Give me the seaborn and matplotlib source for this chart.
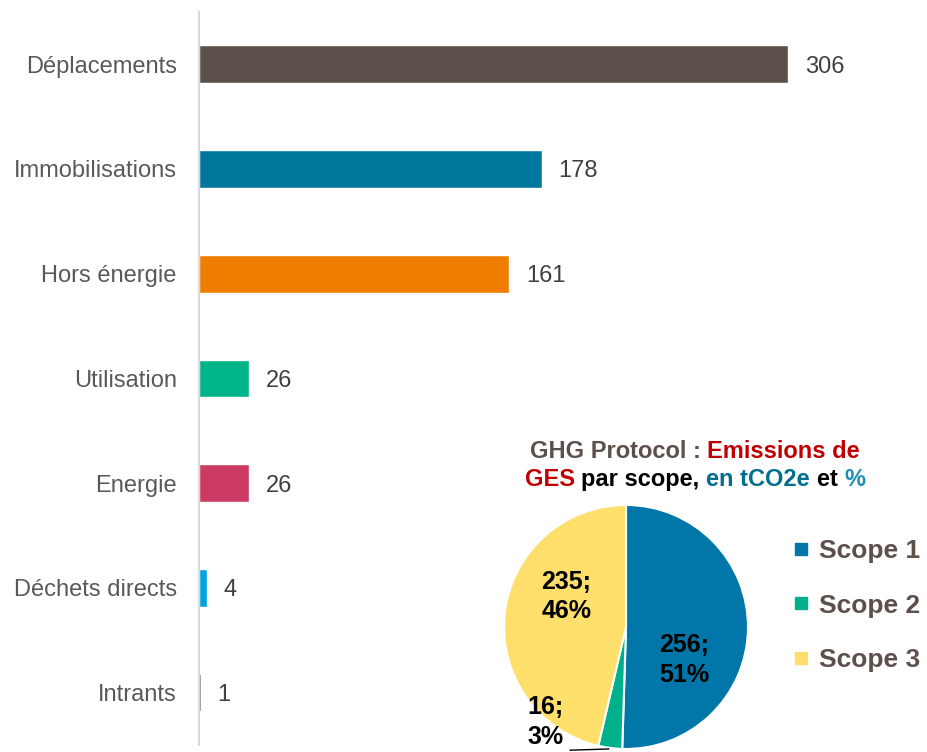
import numpy as np
import pandas as pd
import matplotlib.pyplot as plt
from matplotlib.lines import Line2D
import seaborn as sns

# bar chart data (tCO2e by category)
categories = ["Déplacements", "Immobilisations", "Hors énergie", "Utilisation",
              "Energie", "Déchets directs", "Intrants"]
values = [306, 178, 161, 26, 26, 4, 1]
bar_colors = ["#5D504B", "#00789E", "#EE7D00", "#00B48A", "#CB3A62", "#00A3E0", "#6E625D"]

# pie data (GHG protocol scopes)
scopes = ["Scope 1", "Scope 2", "Scope 3"]
scope_values = [256, 16, 235]
scope_pct = [51, 3, 46]
scope_colors = ["#0077A8", "#00B08A", "#FFDF6B"]

sns.set_style("white")
plt.rcParams['font.family'] = ['Liberation Sans', 'DejaVu Sans']

fig = plt.figure(figsize=(9.27, 7.52), dpi=100)
ax = fig.add_axes([0.2147, 0.0093, 0.7853, 0.975])

df = pd.DataFrame({"cat": categories, "val": values})
sns.barplot(data=df, x="val", y="cat", hue="cat", palette=bar_colors, orient="h",
            width=0.36, saturation=1, legend=False, ax=ax)
for c in ax.containers:
    for t in ax.bar_label(c, padding=12, fontsize=17, color="#404040"):
        t.set_va("center_baseline")

ax.set_xlim(0, 378)
ax.set_xlabel("")
ax.set_ylabel("")
ax.xaxis.set_visible(False)
ax.tick_params(axis="y", length=0, pad=16, labelsize=17, labelcolor="#595959")
for lab in ax.get_yticklabels():
    lab.set_va("center_baseline")
for s in ["top", "right", "bottom"]:
    ax.spines[s].set_visible(False)
ax.spines["left"].set_color("#D9D9D9")
ax.spines["left"].set_linewidth(1.5)

# pie
pax = fig.add_axes([0.5437, 0.004, 0.2632, 0.3245])
pax.pie(scope_values, colors=scope_colors, startangle=90, counterclock=False,
        wedgeprops=dict(edgecolor="white", linewidth=1.5))
pax.set_xlim(-1, 1)
pax.set_ylim(-1, 1)
pax.set_aspect("equal")
pax.axis("off")

label_pos = [(0.475, -0.27), (-0.66, -0.78), (-0.49, 0.25)]
for v, p, (x, y) in zip(scope_values, scope_pct, label_pos):
    pax.text(x, y, f"{v};\n{p}%", ha="center", va="center", fontsize=18,
             fontweight="bold", color="black", linespacing=1.3, clip_on=False)
pax.plot([-0.46, -0.14], [-1.01, -1.0], color="black", lw=1, clip_on=False)

# legend
handles = [Line2D([], [], marker="s", ls="", markersize=9, color=c) for c in scope_colors]
leg = fig.legend(handles, scopes, loc="upper left", bbox_to_anchor=(0.855, 0.283),
                 frameon=False, fontsize=19, handlelength=0.6, handletextpad=0.4,
                 labelspacing=1.15, borderpad=0, borderaxespad=0)
for t in leg.get_texts():
    t.set_color("#5D504B")
    t.set_fontweight("bold")


def colored_line(parts, xc, y, size=17):
    r = fig.canvas.get_renderer()
    W = fig.bbox.width
    bar = fig.text(0, 0, "|", fontsize=size, fontweight="bold")
    bw = bar.get_window_extent(r).width
    bar.remove()
    texts, widths = [], []
    for s, c in parts:
        probe = fig.text(0, 0, s + "|", fontsize=size, fontweight="bold")
        widths.append(probe.get_window_extent(r).width - bw)
        probe.remove()
        texts.append(fig.text(0, y, s, color=c, fontsize=size, fontweight="bold", va="center"))
    x = xc * W - sum(widths) / 2
    for t, w in zip(texts, widths):
        t.set_x(x / W)
        x += w


colored_line([("GHG Protocol : ", "#5D504B"), ("Emissions de", "#C00000")], 0.7497, 0.399)
colored_line([("GES ", "#C00000"), ("par scope, ", "black"), ("en tCO2e ", "#006E8E"),
              ("et ", "black"), ("%", "#1C8DB3")], 0.7497, 0.362)

fig.savefig("out.png", dpi=100)
